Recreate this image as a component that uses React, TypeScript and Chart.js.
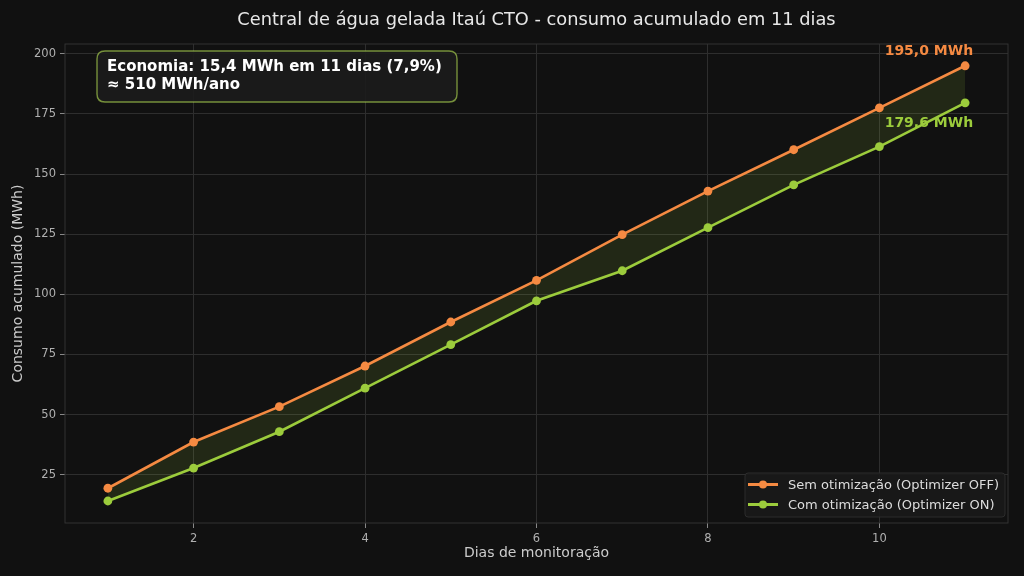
import React, { useEffect, useRef } from 'react';
import Chart from 'chart.js/auto';

const days = [1, 2, 3, 4, 5, 6, 7, 8, 9, 10, 11];
const semOtimizacao = [19.4, 38.6, 53.3, 70.2, 88.5, 105.8, 124.8, 142.9, 160.1, 177.5, 195.0];
const comOtimizacao = [14.1, 27.8, 42.9, 61.0, 79.1, 97.3, 109.8, 127.7, 145.5, 161.4, 179.6];
const xTicks = [2, 4, 6, 8, 10];
const yTicks = [25, 50, 75, 100, 125, 150, 175, 200];

const title = 'Central de água gelada Itaú CTO - consumo acumulado em 11 dias';
const labelOff = 'Sem otimização (Optimizer OFF)';
const labelOn = 'Com otimização (Optimizer ON)';
const noteLines = ['Economia: 15,4 MWh em 11 dias (7,9%)', '≈ 510 MWh/ano'];

const ORANGE = '#f58a42';
const GREEN = '#9ccc3c';
const FONT = "'DejaVu Sans', sans-serif";

function roundRect(ctx: CanvasRenderingContext2D, x: number, y: number, w: number, h: number, r: number) {
  ctx.beginPath();
  ctx.moveTo(x + r, y);
  ctx.lineTo(x + w - r, y);
  ctx.quadraticCurveTo(x + w, y, x + w, y + r);
  ctx.lineTo(x + w, y + h - r);
  ctx.quadraticCurveTo(x + w, y + h, x + w - r, y + h);
  ctx.lineTo(x + r, y + h);
  ctx.quadraticCurveTo(x, y + h, x, y + h - r);
  ctx.lineTo(x, y + r);
  ctx.quadraticCurveTo(x, y, x + r, y);
  ctx.closePath();
}

const overlay = {
  id: 'overlay',
  afterDatasetsDraw(chart: any) {
    const { ctx, chartArea, scales } = chart;
    ctx.save();
    // plot frame
    ctx.strokeStyle = '#333333';
    ctx.lineWidth = 1;
    ctx.strokeRect(chartArea.left, chartArea.top, chartArea.right - chartArea.left, chartArea.bottom - chartArea.top);

    // title centred over the plot area
    ctx.fillStyle = '#e8e8e8';
    ctx.font = `17.8px ${FONT}`;
    ctx.textAlign = 'center';
    ctx.textBaseline = 'middle';
    ctx.fillText(title, (chartArea.left + chartArea.right) / 2, 20);

    // end values
    const lastX = scales.x.getPixelForValue(days[days.length - 1]);
    const offEnd = semOtimizacao[semOtimizacao.length - 1];
    const onEnd = comOtimizacao[comOtimizacao.length - 1];
    ctx.font = `bold 14px ${FONT}`;
    ctx.textAlign = 'right';
    ctx.fillStyle = ORANGE;
    ctx.fillText(offEnd.toFixed(1).replace('.', ',') + ' MWh', lastX + 8, scales.y.getPixelForValue(offEnd) - 14);
    ctx.fillStyle = GREEN;
    ctx.fillText(onEnd.toFixed(1).replace('.', ',') + ' MWh', lastX + 8, scales.y.getPixelForValue(onEnd) + 21);

    // savings note
    const bx = chartArea.left + 32;
    const by = chartArea.top + 7;
    roundRect(ctx, bx, by, 360, 51, 8);
    ctx.fillStyle = 'rgba(28,28,28,0.9)';
    ctx.fill();
    ctx.strokeStyle = 'rgba(170,210,80,0.65)';
    ctx.lineWidth = 1.4;
    ctx.stroke();
    ctx.fillStyle = '#ffffff';
    ctx.font = `bold 15px ${FONT}`;
    ctx.textAlign = 'left';
    noteLines.forEach((t, i) => ctx.fillText(t, bx + 10, by + 16 + i * 18));
    ctx.restore();
  },
  afterDraw(chart: any) {
    const { ctx, chartArea } = chart;
    ctx.save();
    const w = 260;
    const h = 44;
    const x = chartArea.right - 3 - w;
    const y = chartArea.bottom - 6 - h;
    roundRect(ctx, x, y, w, h, 3);
    ctx.fillStyle = 'rgba(26,26,26,0.9)';
    ctx.fill();
    ctx.strokeStyle = '#2c2c2c';
    ctx.lineWidth = 1;
    ctx.stroke();
    ctx.font = `13px ${FONT}`;
    ctx.textAlign = 'left';
    ctx.textBaseline = 'middle';
    chart.data.datasets.forEach((ds: any, i: number) => {
      const cy = y + 11.5 + i * 20;
      ctx.strokeStyle = ds.borderColor;
      ctx.lineWidth = 3;
      ctx.beginPath();
      ctx.moveTo(x + 3, cy);
      ctx.lineTo(x + 33, cy);
      ctx.stroke();
      ctx.fillStyle = ds.borderColor;
      ctx.beginPath();
      ctx.arc(x + 18, cy, 4, 0, Math.PI * 2);
      ctx.fill();
      ctx.fillStyle = '#dddddd';
      ctx.fillText(ds.label, x + 43, cy + 1);
    });
    ctx.restore();
  },
};

export default function App() {
  const canvasRef = useRef<HTMLCanvasElement>(null);

  useEffect(() => {
    document.body.style.margin = '0';
    const canvas = canvasRef.current;
    if (!canvas) return;
    const context = canvas.getContext('2d');
    if (!context) return;
    const chart = new Chart(context, {
      type: 'line',
      data: {
        datasets: [
          {
            label: labelOff,
            data: days.map((d, i) => ({ x: d, y: semOtimizacao[i] })),
            borderColor: ORANGE,
            backgroundColor: ORANGE,
            pointBackgroundColor: ORANGE,
            pointBorderWidth: 0,
            borderWidth: 2.6,
            pointRadius: 4.4,
            fill: false,
          },
          {
            label: labelOn,
            data: days.map((d, i) => ({ x: d, y: comOtimizacao[i] })),
            borderColor: GREEN,
            backgroundColor: 'rgba(156,204,60,0.13)',
            pointBackgroundColor: GREEN,
            pointBorderWidth: 0,
            borderWidth: 2.6,
            pointRadius: 4.4,
            fill: '-1',
          },
        ],
      },
      options: {
        animation: false,
        responsive: true,
        maintainAspectRatio: false,
        layout: { padding: { left: 0, right: 16, top: 44, bottom: 0 } },
        plugins: {
          legend: { display: false },
          tooltip: { enabled: false },
          title: { display: false },
        },
        scales: {
          x: {
            type: 'linear',
            min: 0.5,
            max: 11.5,
            afterBuildTicks: (scale: any) => {
              scale.ticks = xTicks.map((v) => ({ value: v }));
            },
            afterFit: (scale: any) => {
              scale.height = 53;
            },
            grid: { color: '#2e2e2e', tickColor: '#888888', tickLength: 5 },
            border: { display: false },
            ticks: { color: '#b0b0b0', font: { family: FONT, size: 11.5 }, padding: 4, maxRotation: 0 },
            title: {
              display: true,
              text: 'Dias de monitoração',
              color: '#cccccc',
              font: { family: FONT, size: 14 },
              padding: { top: 0, bottom: 14 },
            },
          },
          y: {
            min: 4.95,
            max: 204.05,
            afterBuildTicks: (scale: any) => {
              scale.ticks = yTicks.map((v) => ({ value: v }));
            },
            afterFit: (scale: any) => {
              scale.width = 65;
            },
            grid: { color: '#2e2e2e', tickColor: '#888888', tickLength: 5 },
            border: { display: false },
            ticks: { color: '#b0b0b0', font: { family: FONT, size: 11.5 }, padding: 4 },
            title: {
              display: true,
              text: 'Consumo acumulado (MWh)',
              color: '#cccccc',
              font: { family: FONT, size: 14 },
              padding: { top: 10, bottom: 4 },
            },
          },
        },
      },
      plugins: [overlay],
    });
    return () => {
      chart.destroy();
    };
  }, []);

  return (
    <div style={{ position: 'absolute', left: 0, top: 0, width: 1024, height: 576, background: '#111111' }}>
      <canvas ref={canvasRef} />
    </div>
  );
}
